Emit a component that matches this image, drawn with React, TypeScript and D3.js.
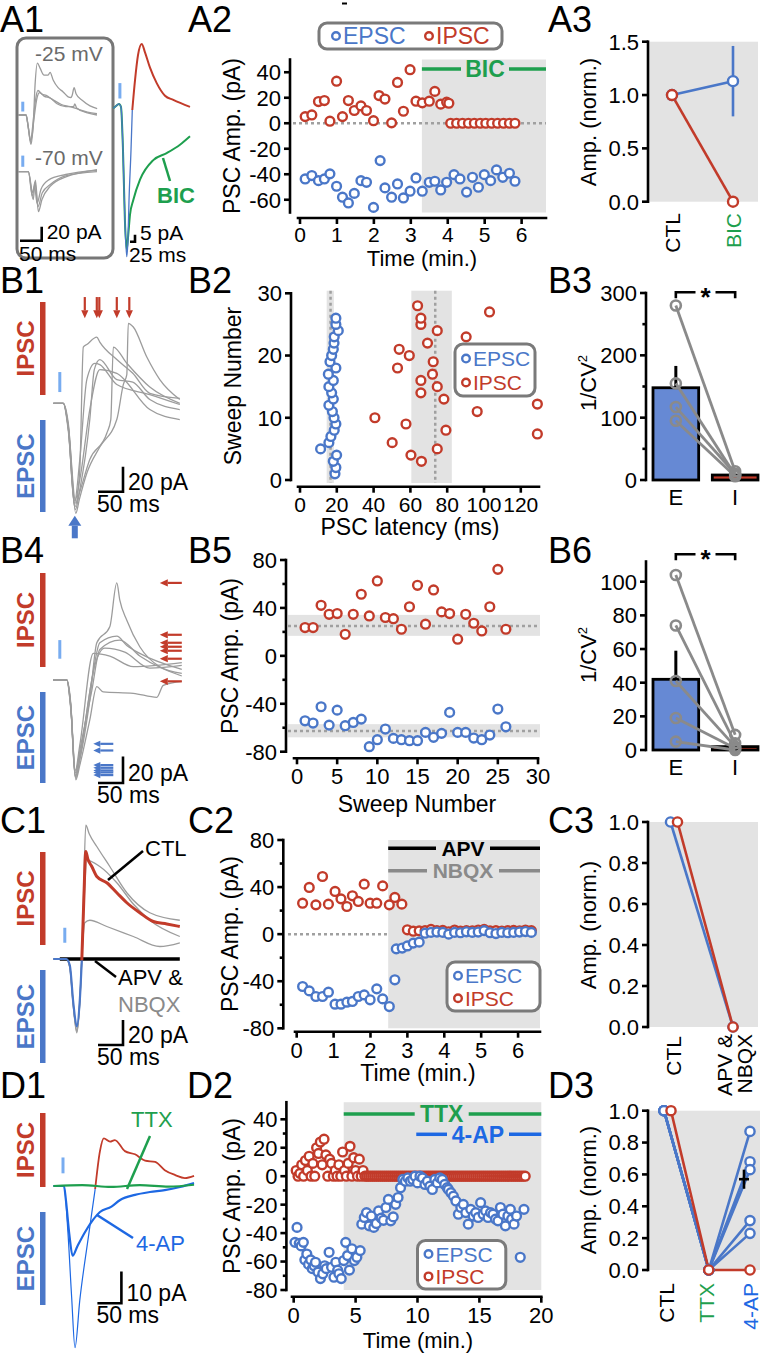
import React from 'react';
import * as d3 from 'd3';

type P = [number, number];

// ================= DATA =================
// A1 traces (time ms, current pA)
const A1_STIM_MS = 11;
const A1_NEG25_TRACES: P[][] = [
  [[0,0],[18.5,0],[23,-14],[29.3,-36],[34.6,-19],[39.3,43],[44.6,74],[50.8,67],[60,57],[69.3,57],[74,61],[81,50],[92.4,39],[104,33],[115.5,26],[122,25],[124.7,28],[129.3,39],[134,30],[147.8,21],[166,13],[182.4,9]],
  [[0,0],[18.5,0],[23,-14],[29,-38],[34,-15],[40,20],[46,35],[55,30],[65,28],[80,22],[100,15],[120,12],[140,8],[160,4],[182,2]],
  [[0,0],[18.5,0],[24,-20],[30,-42],[36,-10],[44,25],[50,32],[60,27],[75,24],[90,16],[110,12],[128,12],[131,16],[135,10],[160,3],[182,0]],
];
const A1_NEG70_TRACES: P[][] = [
  [[0,0],[23.8,0],[35,-40],[40,-12],[47,-57],[55,-40],[74,-21],[112,-7],[140,-2],[182,3]],
  [[0,0],[23.8,0],[34,-30],[39,-15],[46,-50],[56,-30],[75,-18],[110,-6],[182,0]],
  [[0,0],[24,0],[33,-35],[38,-20],[44,-45],[53,-25],[70,-12],[110,-4],[182,2]],
];
const A1R_STIM_MS = 33;
const A1R_EPSC: P[] = [[0,0],[13.5,1.6],[28.5,3.1],[38.5,0.9],[48.5,-30],[58,-80],[67,-106],[73,-95],[78.5,-66],[88.5,-30],[95,-1.2]];
const A1R_IPSC: P[] = [[95,-1.2],[108.5,20],[123.5,38],[142,46],[158.5,40],[183.5,29],[217,18],[258.5,9],[300,6],[383.5,1]];
const A1R_BIC: P[] = [[0,0],[13.5,1.6],[28.5,3.1],[38.5,0.9],[48.5,-30],[58,-80],[67,-101],[75,-90],[83.5,-76],[100,-65.5],[133.5,-51],[200,-37],[267,-32],[333.5,-26],[383.5,-20]];

// A2 (time min, amplitude pA)
const A2_TIME_TICKS = [0, 1, 2, 3, 4, 5, 6];
const A2_AMP_TICKS = [-60, -40, -20, 0, 20, 40];
const A2_BIC_START = 3.3;
const A2_IPSC: P[] = [
  [0.14,5.2],[0.32,6.5],[0.5,17],[0.66,17.8],[0.81,1.6],[0.99,33],[1.15,5.2],[1.31,17.8],[1.47,10],[1.65,13.6],[1.8,10],[1.99,2],
  [2.14,21.7],[2.3,19],[2.48,0.3],[2.64,32],[2.8,9.4],[2.98,42],[3.14,17.3],[3.31,16],[3.5,17.3],[3.65,25],[3.81,15],[3.97,16.5],[4.03,15.7],
  [4.08,0],[4.24,0],[4.4,0],[4.56,0],[4.72,0],[4.88,0],[5.03,0],[5.19,0],[5.35,0],[5.51,0],[5.67,0],[5.82,0],
];
const A2_EPSC: P[] = [
  [0.14,-43.7],[0.32,-41],[0.5,-45],[0.66,-43.7],[0.81,-39.7],[0.99,-49.4],[1.15,-58],[1.31,-62.5],[1.47,-55],[1.65,-45],[1.8,-46.3],
  [1.99,-66],[2.17,-29.3],[2.3,-50.7],[2.48,-58],[2.64,-47.6],[2.8,-58.6],[2.98,-53.3],[3.14,-42.9],[3.31,-53.3],[3.5,-46.3],[3.65,-45.5],
  [3.81,-52.3],[3.97,-46.3],[4.17,-40.3],[4.33,-43.7],[4.51,-54],[4.67,-42.4],[4.83,-50.2],[4.99,-40.3],[5.16,-45],[5.32,-36.6],
  [5.49,-42.4],[5.67,-39.2],[5.82,-45.5],
];

// A3 (normalized amplitude)
const A3_CONDITIONS = ['CTL', 'BIC'];
const A3_EPSC = [1.0, 1.13];
const A3_EPSC_SEM = [0, 0.33];
const A3_IPSC = [1.0, 0.0];
const A3_TICKS = [0, 0.5, 1.0, 1.5];

// B1 traces
const B1_STIM_MS = 13;
const B1_TRACES: P[][] = [
  [[0,0],[20,0],[30,-20],[43,-83],[53,-53],[60,45],[67,47],[87,53],[93,49],[127,35],[159,24],[193,8],[253,4]],
  [[0,0],[20,0],[30,-22],[44,-85],[53,-69],[73,-13],[82,27],[93,35],[127,19],[159,17],[193,3],[253,-5]],
  [[0,0],[20,0],[30,-18],[45,-80],[52,-72],[73,-45],[107,-24],[115,-13],[120,45],[147,32],[193,13],[253,0]],
  [[0,0],[20,0],[30,-20],[45,-88],[52,-77],[67,-56],[93,-35],[127,-13],[140,15],[147,23],[150,64],[160,61],[187,37],[213,19],[253,3]],
  [[0,0],[20,0],[30,-16],[43,-78],[53,-61],[73,-5],[93,27],[127,24],[193,-5],[253,-13]],
  [[0,0],[20,0],[30,-19],[42,-80],[53,-45],[67,19],[83,32],[93,31],[127,15],[193,7],[253,-1]],
];
const B1_IPSC_ARROW_MS = [63, 87, 92, 127, 152];
const B1_EPSC_ARROW_MS = 43;

// B2 (latency ms, sweep)
const B2_SWEEPS = [1,2,3,4,5,6,7,8,9,10,11,12,13,14,15,16,17,18,19,20,21,22,23,24,25,26];
const B2_EPSC_LAT = [19.0,19.5,18.1,19.9,11.2,15.7,16.8,18.6,19.5,18.5,17.6,15.7,18.1,17.2,15.7,18.1,15.4,19.5,16.3,17.2,18.1,18.5,18.6,20.8,19.5,19.5];
const B2_IPSC: P[] = [
  [66,3],[60.3,4],[74.6,5],[50.1,6],[129,7.4],[79.3,8],[57.6,9],[40.7,10],[96.3,11],[129,12.2],[78.2,13],[65.7,14],[74.6,15],
  [65.7,16],[72,17],[53,18],[72.4,19],[59.4,20],[53.9,21],[69.3,22],[90.3,23],[74.6,24],[65.7,25],[65.7,26],[103,27],[63.9,28],
];
const B2_EPSC_BAND = [14.5, 16.6, 18.4];
const B2_IPSC_BAND = [60.5, 73.5, 82.5];
const B2_LAT_TICKS = [0, 20, 40, 60, 80, 100, 120];
const B2_SWEEP_TICKS = [0, 10, 20, 30];

// B3 (1/CV^2)
const B3_GROUPS = ['E', 'I'];
const B3_MEANS = [148, 8];
const B3_E_SEM = 35;
const B3_E_CELLS = [280, 155, 117, 95];
const B3_I_CELLS = [14, 8, 10, 6];

// B4 traces
const B4_TRACES: P[][] = [
  [[0,0],[27,0],[35,-20],[44,-73],[53,-60],[73,-15],[87,28],[113,40],[127,73],[133,60],[147,45],[173,25],[213,10],[257,5]],
  [[0,0],[27,0],[35,-22],[45,-75],[53,-64],[73,-30],[87,-5],[100,-9],[160,-10],[207,-13],[220,-4],[257,-1]],
  [[0,0],[27,0],[35,-18],[43,-70],[53,-56],[77,0],[93,28],[127,33],[147,26],[173,20],[257,8]],
  [[0,0],[27,0],[35,-20],[44,-72],[53,-53],[77,-8],[93,23],[133,30],[173,18],[257,3]],
  [[0,0],[27,0],[35,-19],[44,-68],[53,-49],[80,20],[113,18],[160,10],[257,13]],
  [[0,0],[27,0],[35,-21],[45,-74],[53,-59],[83,11],[103,24],[143,21],[193,9],[257,11]],
];
const B4_IPSC_ARROW_PA = [73, 34, 28, 25, 22, 16, -1];
const B4_EPSC_ARROW_PA = [-48, -53, -64, -66, -68, -69.5, -71.5];

// B5 (sweep, amplitude)
const B5_SWEEPS = [1,2,3,4,5,6,7,8,9,10,11,12,13,14,15,16,17,18,19,20,21,22,23,24,25,26];
const B5_IPSC = [23.6,23.6,42.2,34.7,35.3,18,34.7,51.4,33.3,62.5,32,31,22.2,41,58.9,26.4,55,36.7,35.3,13.9,34.7,27.2,20.8,41,72.2,22.2];
const B5_EPSC = [-54.2,-56.1,-42.5,-57.8,-45.3,-58.3,-55.6,-52.8,-75.8,-70,-61.1,-68.9,-70,-70.8,-70.8,-63.9,-68,-64.7,-47.2,-63.9,-63.9,-68.6,-70,-66.1,-44.4,-59.2];
const B5_IPSC_BAND = [16.7, 25, 34.2];
const B5_EPSC_BAND = [-68, -62.8, -57];
const B5_SWEEP_TICKS = [0, 5, 10, 15, 20, 25, 30];
const B5_AMP_TICKS = [-80, -40, 0, 40, 80];
const B5_AMP_MINOR = [-60, -20, 20, 60];

// B6
const B6_MEANS = [42, 2];
const B6_E_SEM = 17;
const B6_E_CELLS = [104, 74, 41, 19, 5];
const B6_I_CELLS = [9, 4, 2, 1, 0];
const B6_TICKS = [0, 20, 40, 60, 80, 100];

// C1 traces
const C1_STIM_MS = 23;
const C1_EPSC: P[] = [[0,0],[26,0],[33,-5],[40,-35],[47,-54],[53,-33],[57,-1]];
const C1_CTL: P[] = [[57,-1],[61,47],[65,86],[69,80],[77,74],[87,66],[107,61],[127,53],[147,45],[173,37],[200,30],[227,28],[253,26]];
const C1_GRAY: P[][] = [
  [[0,0],[26,0],[33,-7],[40,-38],[47,-59],[53,-35],[57,0],[61,60],[65,107],[72,100],[87,90],[113,74],[147,53],[193,37],[253,31]],
  [[0,0],[26,0],[33,-6],[40,-36],[47,-57],[53,-33],[57,0],[62,50],[67,79],[93,74],[127,61],[160,44],[193,31],[253,18]],
  [[0,0],[26,0],[33,-6],[40,-37],[47,-58],[53,-34],[57,0],[63,29],[73,31],[107,26],[160,18],[213,10],[253,13]],
];
const C1_DRUG: P[] = [[13,0],[253,0]];

// C2 (time min, amplitude)
const C2_IPSC: P[] = [
  [0.16,26.3],[0.34,39.7],[0.52,24.9],[0.7,49],[0.86,25.5],[1.04,36.3],[1.2,30],[1.36,23.5],[1.51,32.6],[1.67,27.8],[1.83,42.5],
  [1.99,26.3],[2.17,26.3],[2.33,41],[2.51,24.9],[2.66,31.2],[2.85,25.5],
  [3.0,3.7],[3.16,2.5],[3.32,2.8],[3.48,3],[3.64,4],[3.8,3],[3.96,3.2],[4.12,2],[4.28,3.5],[4.44,2.5],[4.6,3],[4.76,2.8],
  [4.92,3.5],[5.08,4],[5.24,2.8],[5.4,3],[5.56,2.5],[5.72,3],[5.88,3.2],[6.04,2.8],[6.2,3.5],[6.36,3],
];
const C2_EPSC: P[] = [
  [0.16,-44.5],[0.34,-48.2],[0.52,-53],[0.7,-53],[0.86,-49.3],[1.04,-59.5],[1.2,-59.5],[1.36,-57.8],[1.51,-57.2],[1.67,-53],
  [1.83,-51.6],[1.99,-55.8],[2.17,-46.5],[2.33,-55],[2.51,-61.5],[2.66,-38.8],
  [2.7,-12.5],[2.86,-11.8],[3.0,-10],[3.16,-7.6],[3.32,-6.8],[3.48,0.8],[3.64,1.5],[3.8,1.8],[3.96,1.5],[4.12,0],[4.28,1.5],
  [4.44,1.2],[4.6,2],[4.76,1.5],[4.92,1.8],[5.08,3],[5.24,1.2],[5.4,0.5],[5.56,1.5],[5.72,1.2],[5.88,1.5],[6.04,1.8],[6.2,2.2],[6.36,1.5],
];
const C2_DRUG_START = 2.48;
const C2_TIME_TICKS = [0, 1, 2, 3, 4, 5, 6];
const C2_AMP_TICKS = [-80, -40, 0, 40, 80];
const C2_AMP_MINOR = [-60, -20, 20, 60];

// C3
const C3_CONDITIONS = ['CTL', 'APV'];
const C3_EPSC = [1.0, 0.0];
const C3_IPSC = [1.0, 0.0];
const NORM_TICKS = [0, 0.2, 0.4, 0.6, 0.8, 1.0];

// D1 traces
const D1_STIM_MS = 20;
const D1_EPSC: P[] = [[0,0],[22,0],[30,-14],[38,-35],[45,-51],[55,-36],[72,-17],[87,-1]];
const D1_IPSC: P[] = [[87,-1],[97,11],[105,15],[118,14],[128,14.5],[149,11],[170,10],[191,8],[212,7.6],[232,5],[253,3.5],[274,2.5],[293,3.2]];
const D1_4AP: P[] = [[0,0],[22,0],[26,-4.4],[33,-15],[40,-22],[50,-19],[66,-14.5],[97,-8.2],[121,-6.5],[139,-4.4],[170,-2.8],[201,-1.9],[232,-1.3],[264,-0.3],[293,0.9]];
const D1_TTX: P[] = [[0,0],[60,0.3],[120,-0.3],[180,0.3],[240,-0.2],[293,0.4]];

// D2 (time min, amplitude)
const D2_IPSC_EARLY: P[] = [
  [0.2,4],[0.35,0],[0.5,2],[0.65,8],[0.8,0],[0.95,11],[1.1,4],[1.25,14],[1.4,0],[1.55,9],[1.7,0],[1.85,20],[2.0,16],[2.15,24],
  [2.3,8],[2.45,26],[2.6,15],[2.75,0],[2.9,12],[3.05,9],[3.2,0],[3.35,4],[3.5,0],[3.65,8],[3.8,0],[3.95,17],[4.1,4],[4.25,0],
  [4.4,9],[4.55,21],[4.7,0],[4.85,13],[5.0,4],[5.15,0],[5.3,12],[5.45,0],[5.6,4],[5.75,0],
];
const D2_IPSC_BLOCKED_TIMES = [
  5.9,6.06,6.22,6.38,6.54,6.7,6.86,7.02,7.18,7.34,7.5,7.66,7.82,7.98,8.14,8.3,8.46,8.62,8.78,8.94,9.1,9.26,9.42,9.58,9.74,9.9,
  10.06,10.22,10.38,10.54,10.7,10.86,11.02,11.18,11.34,11.5,11.66,11.82,11.98,12.14,12.3,12.46,12.62,12.78,12.94,13.1,13.26,
  13.42,13.58,13.74,13.9,14.06,14.22,14.38,14.54,14.7,14.86,15.02,15.18,15.34,15.5,15.66,15.82,15.98,16.14,16.3,16.46,16.62,
  16.78,16.94,17.1,17.26,17.42,17.58,17.74,17.9,18.06,18.22,18.38,18.54,18.7,
];
const D2_EPSC: P[] = [
  [0.1,-46.5],[0.27,-36],[0.45,-47.2],[0.6,-49],[0.78,-46.5],[0.9,-58.8],[1.06,-54.7],[1.2,-62],[1.37,-58.8],[1.5,-65],[1.65,-63],
  [1.76,-60.5],[1.96,-67.4],[2.16,-72],[2.35,-68.6],[2.5,-63],[2.63,-65],[2.86,-53.5],[3.06,-64],[3.25,-71],[3.4,-60.5],[3.55,-66],
  [3.65,-68.6],[3.84,-72],[4.04,-59.3],[4.2,-46.5],[4.35,-55.8],[4.5,-66],[4.7,-51],[4.9,-59.3],[5.1,-57],[5.37,-52.3],
  [5.5,-33.7],[5.7,-29],[5.88,-25.6],[6.1,-34.9],[6.27,-28],[6.47,-36],[6.67,-33.3],[6.86,-24.4],[7.06,-29.5],[7.25,-31],[7.45,-22],
  [7.65,-16.3],[7.84,-31.4],[8.04,-28.6],[8.24,-19.8],[8.43,-15],[8.63,-8.1],[8.82,-2.3],[9.02,-3.5],[9.22,-1.2],[9.41,-3.5],
  [9.61,-2.3],[9.8,0],[10,-4.7],[10.2,0],[10.4,-1.2],[10.6,-5.8],[10.8,-3.5],[11,-7],[11.2,-9.3],[11.4,-2.3],[11.6,-4.7],[11.8,-1.2],
  [12,-2.3],[12.2,-5.8],[12.4,-8.1],[12.5,-9.3],[12.7,-11.6],[12.9,-14],[13.1,-17.4],[13.3,-26.7],[13.5,-22],[13.7,-19.8],[13.9,-25.6],
  [14.1,-33.7],[14.3,-23.3],[14.5,-28],[14.7,-25.6],[14.9,-29],[15.1,-18.6],[15.3,-26.7],[15.5,-24.4],[15.7,-29],[15.9,-25.6],
  [16.1,-26.7],[16.3,-30.2],[16.5,-31.4],[16.7,-22],[16.9,-26.7],[17.1,-34.9],[17.3,-28],[17.5,-23.3],[17.6,-30.2],[17.8,-33.7],
  [18,-28],[18.3,-57],[18.6,-23.3],
];
const D2_TTX_START = 4.04;
const D2_4AP_START = 9.9;
const D2_TIME_TICKS = [0, 5, 10, 15, 20];
const D2_AMP_TICKS = [-80, -60, -40, -20, 0, 20, 40];
const D2_AMP_MINOR = [-70, -50, -30, -10, 10, 30];

// D3
const D3_CONDITIONS = ['CTL', 'TTX', '4-AP'];
const D3_EPSC_CELLS = [[1, 0, 0.87], [1, 0, 0.68], [1, 0, 0.63], [1, 0, 0.31], [1, 0, 0.23]];
const D3_IPSC_CELLS = [[1, 0, 0]];
const D3_4AP_MEAN = 0.57;
const D3_4AP_SEM = 0.06;

// ================= STYLE =================
const FONT = '"Liberation Sans", Arial, Helvetica, sans-serif';
const C_BLUE = '#4a77c8';
const C_RED = '#c23b2a';
const C_GREEN = '#1e9f4e';
const C_BBLUE = '#1d68e3';
const C_BG = '#e3e3e3';
const C_TRACE = '#9c9c9c';
const C_STIM = '#78acf0';
const C_BAR_E = '#6689d4';
const C_CELL = '#8a8a8a';
const TICK_FS = 22;
const TITLE_FS = 23;

// ================= HELPERS =================
function frame(x0: number, kx: number, y0: number, ky: number) {
  return {
    x: d3.scaleLinear().domain([0, 1]).range([x0, x0 + kx]),
    y: d3.scaleLinear().domain([0, 1]).range([y0, y0 - ky]),
  };
}
function linePath(f: any, pts: P[]) {
  return d3.line<P>().x(d => f.x(d[0])).y(d => f.y(d[1])).curve(d3.curveMonotoneX)(pts) || '';
}
function Trace({ f, pts, color, w = 1.3 }: any) {
  return <path d={linePath(f, pts)} fill="none" stroke={color} strokeWidth={w} strokeLinejoin="round" />;
}
function PanelLabel({ x, y, t }: any) {
  return <text x={x} y={y} fontSize={36}>{t}</text>;
}
function Dot({ cx, cy, c, r = 4.4, sw = 2.4, fill = '#fff' }: any) {
  return <circle cx={cx} cy={cy} r={r} fill={fill} stroke={c} strokeWidth={sw} />;
}
function VText({ x, y, children, fs = TITLE_FS, anchor = 'middle', fill = '#000', weight = 'normal' }: any) {
  return (
    <text transform={`translate(${x},${y}) rotate(-90)`} textAnchor={anchor} fontSize={fs} fill={fill} fontWeight={weight}>
      {children}
    </text>
  );
}
function YAxis({ x, scale, ticks, minor = [], fmt = (d: number) => String(d), top, bottom, fs = TICK_FS, tl = 6, lw = 2.6 }: any) {
  return (
    <g>
      <line x1={x} x2={x} y1={top} y2={bottom} stroke="#000" strokeWidth={lw} strokeLinecap="square" />
      {ticks.map((t: number) => (
        <g key={'t' + t}>
          <line x1={x - tl} x2={x} y1={scale(t)} y2={scale(t)} stroke="#000" strokeWidth={lw} />
          <text x={x - tl - 3} y={scale(t)} dy="0.36em" textAnchor="end" fontSize={fs}>{fmt(t)}</text>
        </g>
      ))}
      {minor.map((t: number) => (
        <line key={'m' + t} x1={x - tl * 0.6} x2={x} y1={scale(t)} y2={scale(t)} stroke="#000" strokeWidth={lw} />
      ))}
    </g>
  );
}
function XAxis({ y, scale, ticks, x1, x2, fs = TICK_FS, tl = 6, lw = 2.6, dy = 27 }: any) {
  return (
    <g>
      <line x1={x1} x2={x2} y1={y} y2={y} stroke="#000" strokeWidth={lw} strokeLinecap="square" />
      {ticks.map((t: number) => (
        <g key={'t' + t}>
          <line x1={scale(t)} x2={scale(t)} y1={y} y2={y + tl} stroke="#000" strokeWidth={lw} />
          <text x={scale(t)} y={y + dy} textAnchor="middle" fontSize={fs}>{t}</text>
        </g>
      ))}
    </g>
  );
}
function ScaleBar({ x, y, w, h, lv, lh, fs = 23 }: any) {
  return (
    <g>
      <path d={`M${x},${y - h} L${x},${y} L${x - w},${y}`} fill="none" stroke="#000" strokeWidth={2.6} />
      <text x={x + 5} y={y - 2} fontSize={fs}>{lv}</text>
      <text x={x - w - 1} y={y + 20} fontSize={fs}>{lh}</text>
    </g>
  );
}
function Arrow({ x1, y1, x2, y2, color, w = 2, head = 7, hw = 0.5 }: any) {
  const ang = Math.atan2(y2 - y1, x2 - x1);
  const bx = x2 - head * Math.cos(ang);
  const by = y2 - head * Math.sin(ang);
  const px = -Math.sin(ang) * head * hw;
  const py = Math.cos(ang) * head * hw;
  return (
    <g>
      <line x1={x1} y1={y1} x2={bx} y2={by} stroke={color} strokeWidth={w} />
      <polygon points={`${x2},${y2} ${bx + px},${by + py} ${bx - px},${by - py}`} fill={color} />
    </g>
  );
}
function SideLabels({ ipsc, epsc }: any) {
  return (
    <g>
      <rect x={40} y={ipsc[0]} width={5.5} height={ipsc[1] - ipsc[0]} fill={C_RED} />
      <VText x={34} y={(ipsc[0] + ipsc[1]) / 2} fill={C_RED} weight="bold" fs={24}>IPSC</VText>
      <rect x={40} y={epsc[0]} width={5.5} height={epsc[1] - epsc[0]} fill={C_BLUE} />
      <VText x={34} y={(epsc[0] + epsc[1]) / 2} fill={C_BLUE} weight="bold" fs={24}>EPSC</VText>
    </g>
  );
}
function Stim({ x, y1, y2 }: any) {
  return <line x1={x} x2={x} y1={y1} y2={y2} stroke={C_STIM} strokeWidth={3} />;
}
function LegendCol({ x, y, w, h, r1, r2, fs = 21 }: any) {
  return (
    <g>
      <rect x={x} y={y} width={w} height={h} rx={8} fill="#fff" stroke="#7a7a7a" strokeWidth={3} />
      <Dot cx={x + 11} cy={y + h * 0.28} c={C_BLUE} r={3.8} />
      <text x={x + 18} y={y + h * 0.28} dy="0.36em" fontSize={fs} fill={C_BLUE}>{r1}</text>
      <Dot cx={x + 11} cy={y + h * 0.74} c={C_RED} r={3.8} />
      <text x={x + 18} y={y + h * 0.74} dy="0.36em" fontSize={fs} fill={C_RED}>{r2}</text>
    </g>
  );
}
function BarLabel({ y, x1, x2, cx, text, color, half, fs = 23 }: any) {
  return (
    <g>
      <line x1={x1} x2={cx - half} y1={y} y2={y} stroke={color} strokeWidth={3.5} />
      <line x1={cx + half} x2={x2} y1={y} y2={y} stroke={color} strokeWidth={3.5} />
      <text x={cx} y={y} dy="0.36em" textAnchor="middle" fontSize={fs} fontWeight="bold" fill={color}>{text}</text>
    </g>
  );
}
function Bracket({ x1, x2, y }: any) {
  const cx = (x1 + x2) / 2;
  return (
    <g>
      <path d={`M${x1},${y + 6} L${x1},${y} L${cx - 10},${y}`} fill="none" stroke="#000" strokeWidth={2.6} />
      <path d={`M${cx + 10},${y} L${x2},${y} L${x2},${y + 6}`} fill="none" stroke="#000" strokeWidth={2.6} />
      <text x={cx} y={y + 14} textAnchor="middle" fontSize={26} fontWeight="bold">*</text>
    </g>
  );
}

// ================= PANELS =================
function PanelA1() {
  const fT = frame(18, 0.434, 115, 0.7);
  const fB = frame(18, 0.434, 171.7, 0.7);
  const fR = frame(113.3, 0.2, 108.3, 1.4);
  return (
    <g>
      <PanelLabel x={0} y={32} t="A1" />
      <rect x={17} y={38} width={96} height={220} rx={9} fill="none" stroke="#777" strokeWidth={3} />
      <text x={35} y={61} fontSize={21} fill="#6a6a6a">-25 mV</text>
      <text x={35} y={165} fontSize={21} fill="#6a6a6a">-70 mV</text>
      {A1_NEG25_TRACES.map((t, i) => <Trace key={'a' + i} f={fT} pts={t} color={C_TRACE} />)}
      {A1_NEG70_TRACES.map((t, i) => <Trace key={'b' + i} f={fB} pts={t} color={C_TRACE} />)}
      <Stim x={fT.x(A1_STIM_MS)} y1={fT.y(5)} y2={fT.y(19)} />
      <Stim x={fB.x(A1_STIM_MS)} y1={fB.y(7)} y2={fB.y(23)} />
      <ScaleBar x={41.7} y={240.7} w={50 * 0.434} h={20 * 0.7} lv="20 pA" lh="50 ms" fs={21} />
      <Trace f={fR} pts={A1R_BIC} color={C_GREEN} w={2} />
      <Trace f={fR} pts={A1R_IPSC} color={C_RED} w={2} />
      <Trace f={fR} pts={A1R_EPSC} color={C_BLUE} w={1.3} />
      <Stim x={fR.x(A1R_STIM_MS)} y1={fR.y(7)} y2={fR.y(18)} />
      <line x1={170} y1={181} x2={163} y2={158} stroke={C_GREEN} strokeWidth={2.5} />
      <text x={157} y={203} fontSize={22} fontWeight="bold" fill={C_GREEN}>BIC</text>
      <ScaleBar x={135} y={241.7} w={25 * 0.2} h={5 * 1.4} lv="5 pA" lh="25 ms" fs={21} />
    </g>
  );
}

function PanelA2() {
  const x = d3.scaleLinear().domain([0, 6.66]).range([300, 546]);
  const y = d3.scaleLinear().domain([-70, 50]).range([212.5, 59.5]);
  return (
    <g>
      <PanelLabel x={188} y={32} t="A2" />
      <line x1={342} x2={347} y1={3.5} y2={3.5} stroke="#000" strokeWidth={2} />
      <rect x={x(A2_BIC_START)} y={y(50)} width={546 - x(A2_BIC_START)} height={y(-70) - y(50)} fill={C_BG} />
      <line x1={293} x2={546} y1={y(0)} y2={y(0)} stroke="#a0a0a0" strokeWidth={2.5} strokeDasharray="3,3" />
      <BarLabel y={69} x1={x(A2_BIC_START)} x2={546} cx={485} half={24} text="BIC" color={C_GREEN} />
      <YAxis x={290} scale={y} ticks={A2_AMP_TICKS} top={y(50)} bottom={y(-70)} />
      <XAxis y={218} scale={x} ticks={A2_TIME_TICKS} x1={298} x2={546} dy={24} fs={21} />
      {A2_IPSC.map((d, i) => <Dot key={'r' + i} cx={x(d[0])} cy={y(d[1])} c={C_RED} />)}
      {A2_EPSC.map((d, i) => <Dot key={'b' + i} cx={x(d[0])} cy={y(d[1])} c={C_BLUE} />)}
      <VText x={240} y={136}>PSC Amp. (pA)</VText>
      <text x={422} y={266} textAnchor="middle" fontSize={22}>Time (min.)</text>
      <rect x={319} y={23} width={183} height={26} rx={8} fill="#fff" stroke="#7a7a7a" strokeWidth={3} />
      <Dot cx={336} cy={36} c={C_BLUE} r={3.8} />
      <text x={343} y={36} dy="0.36em" fontSize={23} fill={C_BLUE}>EPSC</text>
      <Dot cx={429} cy={36} c={C_RED} r={3.8} />
      <text x={436} y={36} dy="0.36em" fontSize={23} fill={C_RED}>IPSC</text>
    </g>
  );
}

function PanelA3() {
  const y = d3.scaleLinear().domain([0, 1.5]).range([201.7, 41.7]);
  const x = d3.scalePoint<string>().domain(A3_CONDITIONS).range([672, 733]);
  const line = d3.line<number>().x((_, i) => x(A3_CONDITIONS[i]) as number).y(d => y(d));
  return (
    <g>
      <PanelLabel x={548} y={32} t="A3" />
      <rect x={648} y={y(1.5)} width={110} height={y(0) - y(1.5)} fill={C_BG} />
      <YAxis x={648} scale={y} ticks={A3_TICKS} fmt={(d: number) => d.toFixed(1)} top={y(1.5)} bottom={y(0)} />
      <path d={line(A3_EPSC) || ''} fill="none" stroke={C_BLUE} strokeWidth={2.6} />
      <line x1={x('BIC')} x2={x('BIC')} y1={y(A3_EPSC[1] - A3_EPSC_SEM[1])} y2={y(A3_EPSC[1] + A3_EPSC_SEM[1])} stroke={C_BLUE} strokeWidth={2.6} />
      <path d={line(A3_IPSC) || ''} fill="none" stroke={C_RED} strokeWidth={2.6} />
      {A3_EPSC.map((v, i) => <Dot key={'b' + i} cx={x(A3_CONDITIONS[i])} cy={y(v)} c={C_BLUE} r={5} />)}
      {A3_IPSC.map((v, i) => <Dot key={'r' + i} cx={x(A3_CONDITIONS[i])} cy={y(v)} c={C_RED} r={5} />)}
      <VText x={680} y={213} anchor="end" fs={21}>CTL</VText>
      <VText x={741} y={213} anchor="end" fs={21} fill={C_GREEN}>BIC</VText>
      <VText x={596} y={122} fs={22}>Amp. (norm.)</VText>
    </g>
  );
}

function PanelB1() {
  const f = frame(53.3, 0.5, 403.3, 1.25);
  return (
    <g>
      <PanelLabel x={0} y={293} t="B1" />
      <SideLabels ipsc={[302, 395]} epsc={[420, 512]} />
      {B1_TRACES.map((t, i) => <Trace key={i} f={f} pts={t} color={C_TRACE} />)}
      <Stim x={f.x(B1_STIM_MS)} y1={f.y(25)} y2={f.y(9)} />
      {B1_IPSC_ARROW_MS.map((t, i) => <Arrow key={i} x1={f.x(t)} x2={f.x(t)} y1={f.y(85)} y2={f.y(68)} color={C_RED} w={2.2} head={8} hw={0.45} />)}
      <Arrow x1={f.x(B1_EPSC_ARROW_MS)} x2={f.x(B1_EPSC_ARROW_MS)} y1={f.y(-108)} y2={f.y(-90)} color={C_BLUE} w={6} head={10} hw={0.65} />
      <ScaleBar x={123} y={491.7} w={50 * 0.5} h={20 * 1.25} lv="20 pA" lh="50 ms" />
    </g>
  );
}

function PanelB2() {
  const x = d3.scaleLinear().domain([0, 130]).range([300, 539.2]);
  const y = d3.scaleLinear().domain([0, 30]).range([480, 293.3]);
  const band = (b: number[], k: string) => (
    <g key={k}>
      <rect x={x(b[0])} y={290.7} width={x(b[2]) - x(b[0])} height={483 - 290.7} fill={C_BG} />
      <line x1={x(b[1])} x2={x(b[1])} y1={290.7} y2={483} stroke="#a0a0a0" strokeWidth={2.5} strokeDasharray="3,3" />
    </g>
  );
  return (
    <g>
      <PanelLabel x={188} y={293} t="B2" />
      {band(B2_EPSC_BAND, 'e')}
      {band(B2_IPSC_BAND, 'i')}
      <YAxis x={291} scale={y} ticks={B2_SWEEP_TICKS} top={y(30)} bottom={y(0)} />
      <XAxis y={486.7} scale={x} ticks={B2_LAT_TICKS} x1={298} x2={539} dy={25} fs={21} />
      {B2_IPSC.map((d, i) => <Dot key={'r' + i} cx={x(d[0])} cy={y(d[1])} c={C_RED} />)}
      {B2_EPSC_LAT.map((v, i) => <Dot key={'b' + i} cx={x(v)} cy={y(B2_SWEEPS[i])} c={C_BLUE} />)}
      <LegendCol x={455} y={344} w={80} h={52} r1="EPSC" r2="IPSC" fs={21} />
      <VText x={241} y={386}>Sweep Number</VText>
      <text x={410} y={535} textAnchor="middle" fontSize={TITLE_FS}>PSC latency (ms)</text>
    </g>
  );
}

function CvPanel({ lab, labY, y, ticks, minor, means, sem, eCells, iCells, top, bottom, bracketY, titleY }: any) {
  const x = d3.scaleBand<string>().domain(B3_GROUPS).range([653, 758]).paddingInner(0.23);
  const ex = (x('E') as number) + x.bandwidth() / 2;
  const ix = (x('I') as number) + x.bandwidth() / 2;
  return (
    <g>
      <PanelLabel x={548} y={labY} t={lab} />
      <YAxis x={646} scale={y} ticks={ticks} minor={minor} top={top} bottom={bottom} />
      <line x1={ex} x2={ex} y1={y(means[0])} y2={y(means[0] + sem)} stroke="#000" strokeWidth={3} />
      <rect x={x('E')} y={y(means[0])} width={x.bandwidth()} height={y(0) - y(means[0])} fill={C_BAR_E} stroke="#000" strokeWidth={2.8} />
      <rect x={x('I')} y={y(means[1])} width={x.bandwidth()} height={y(0) - y(means[1])} fill={C_RED} stroke="#000" strokeWidth={2.8} />
      {eCells.map((v: number, i: number) => (
        <line key={'l' + i} x1={ex} x2={ix} y1={y(v)} y2={y(iCells[i])} stroke={C_CELL} strokeWidth={2.8} />
      ))}
      {eCells.map((v: number, i: number) => <Dot key={'e' + i} cx={ex} cy={y(v)} c={C_CELL} r={5} fill="none" sw={2.6} />)}
      {iCells.map((v: number, i: number) => <Dot key={'i' + i} cx={ix} cy={y(v)} c={C_CELL} r={5} fill="none" sw={2.6} />)}
      <Bracket x1={ex} x2={ix} y={bracketY} />
      <text x={ex} y={bottom + 25} textAnchor="middle" fontSize={22}>E</text>
      <text x={ix} y={bottom + 25} textAnchor="middle" fontSize={22}>I</text>
      <text transform={`translate(596,${titleY}) rotate(-90)`} textAnchor="middle" fontSize={22}>
        1/CV<tspan fontSize={13} dy={-9}>2</tspan>
      </text>
    </g>
  );
}

function PanelB4() {
  const f = frame(53.3, 0.5, 680, 1.33);
  return (
    <g>
      <PanelLabel x={0} y={563} t="B4" />
      <SideLabels ipsc={[573, 667]} epsc={[692, 783]} />
      {B4_TRACES.map((t, i) => <Trace key={i} f={f} pts={t} color={C_TRACE} />)}
      <Stim x={f.x(13)} y1={f.y(30)} y2={f.y(16)} />
      {B4_IPSC_ARROW_PA.map((v, i) => <Arrow key={'r' + i} x1={f.x(257)} x2={f.x(213)} y1={f.y(v)} y2={f.y(v)} color={C_RED} w={2.2} head={8} hw={0.45} />)}
      {B4_EPSC_ARROW_PA.map((v, i) => <Arrow key={'b' + i} x1={f.x(120)} x2={f.x(80)} y1={f.y(v)} y2={f.y(v)} color={C_BLUE} w={2.2} head={7} hw={0.45} />)}
      <ScaleBar x={123} y={783} w={50 * 0.5} h={20 * 1.33} lv="20 pA" lh="50 ms" />
    </g>
  );
}

function PanelB5() {
  const x = d3.scaleLinear().domain([0, 30]).range([297, 538]);
  const y = d3.scaleLinear().domain([-80, 80]).range([751.7, 560]);
  const band = (b: number[], k: string) => (
    <g key={k}>
      <rect x={288} y={y(b[2])} width={252} height={y(b[0]) - y(b[2])} fill={C_BG} />
      <line x1={288} x2={540} y1={y(b[1])} y2={y(b[1])} stroke="#a0a0a0" strokeWidth={2.5} strokeDasharray="3,3" />
    </g>
  );
  return (
    <g>
      <PanelLabel x={188} y={563} t="B5" />
      {band(B5_IPSC_BAND, 'i')}
      {band(B5_EPSC_BAND, 'e')}
      <YAxis x={286} scale={y} ticks={B5_AMP_TICKS} minor={B5_AMP_MINOR} top={y(80)} bottom={y(-80)} />
      <XAxis y={758.3} scale={x} ticks={B5_SWEEP_TICKS} x1={294} x2={538} dy={26} />
      {B5_IPSC.map((v, i) => <Dot key={'r' + i} cx={x(B5_SWEEPS[i])} cy={y(v)} c={C_RED} />)}
      {B5_EPSC.map((v, i) => <Dot key={'b' + i} cx={x(B5_SWEEPS[i])} cy={y(v)} c={C_BLUE} />)}
      <VText x={238} y={656}>PSC Amp. (pA)</VText>
      <text x={417} y={812} textAnchor="middle" fontSize={TITLE_FS}>Sweep Number</text>
    </g>
  );
}

function PanelC1() {
  const f = frame(53.3, 0.5, 959, 1.25);
  return (
    <g>
      <PanelLabel x={0} y={833} t="C1" />
      <SideLabels ipsc={[852, 945]} epsc={[970, 1063]} />
      {C1_GRAY.map((t, i) => <Trace key={i} f={f} pts={t} color={C_TRACE} />)}
      <Trace f={f} pts={C1_DRUG} color="#000" w={3.5} />
      <Trace f={f} pts={C1_EPSC} color={C_BLUE} w={2.2} />
      <Trace f={f} pts={C1_CTL} color={C_RED} w={3} />
      <Stim x={f.x(C1_STIM_MS)} y1={f.y(25)} y2={f.y(13)} />
      <line x1={108} y1={880} x2={143} y2={851} stroke="#000" strokeWidth={2.5} />
      <text x={145} y={856} fontSize={22}>CTL</text>
      <line x1={95} y1={961} x2={116} y2={977} stroke="#000" strokeWidth={2.5} />
      <text x={118} y={985} fontSize={22}>APV &amp;</text>
      <text x={118} y={1012} fontSize={22} fill="#8a8a8a">NBQX</text>
      <ScaleBar x={123} y={1045} w={50 * 0.5} h={20 * 1.25} lv="20 pA" lh="50 ms" />
    </g>
  );
}

function PanelC2() {
  const x = d3.scaleLinear().domain([0, 6.6]).range([296.7, 540.2]);
  const y = d3.scaleLinear().domain([-80, 80]).range([1028.3, 840]);
  return (
    <g>
      <PanelLabel x={188} y={833} t="C2" />
      <rect x={x(C2_DRUG_START)} y={y(80)} width={540 - x(C2_DRUG_START)} height={y(-80) - y(80)} fill={C_BG} />
      <line x1={288} x2={x(C2_DRUG_START)} y1={y(0)} y2={y(0)} stroke="#a0a0a0" strokeWidth={2.5} strokeDasharray="3,3" />
      <BarLabel y={848.3} x1={x(C2_DRUG_START)} x2={540} cx={463} half={27} text="APV" color="#000" fs={21} />
      <BarLabel y={870.7} x1={x(C2_DRUG_START)} x2={540} cx={463} half={36} text="NBQX" color="#8a8a8a" fs={21} />
      <YAxis x={283.3} scale={y} ticks={C2_AMP_TICKS} minor={C2_AMP_MINOR} top={y(80)} bottom={y(-80)} />
      <XAxis y={1031.7} scale={x} ticks={C2_TIME_TICKS} x1={295} x2={540} dy={26} />
      {C2_IPSC.map((d, i) => <Dot key={'r' + i} cx={x(d[0])} cy={y(d[1])} c={C_RED} />)}
      {C2_EPSC.map((d, i) => <Dot key={'b' + i} cx={x(d[0])} cy={y(d[1])} c={C_BLUE} />)}
      <LegendCol x={447} y={962} w={93} h={49} r1="EPSC" r2="IPSC" fs={21} />
      <VText x={238} y={934}>PSC Amp. (pA)</VText>
      <text x={418} y={1081} textAnchor="middle" fontSize={TITLE_FS}>Time (min.)</text>
    </g>
  );
}

function PanelC3() {
  const y = d3.scaleLinear().domain([0, 1]).range([1027, 822]);
  const x = d3.scalePoint<string>().domain(C3_CONDITIONS).range([674, 733]);
  const xb = (c: string, i: number) => (x(c) as number) + (i === 0 ? -3.5 : 0);
  const xr = (c: string, i: number) => (x(c) as number) + (i === 0 ? 3.5 : 0);
  const lb = d3.line<number>().x((_, i) => xb(C3_CONDITIONS[i], i)).y(d => y(d));
  const lr = d3.line<number>().x((_, i) => xr(C3_CONDITIONS[i], i)).y(d => y(d));
  return (
    <g>
      <PanelLabel x={548} y={833} t="C3" />
      <rect x={648} y={y(1)} width={110} height={y(0) - y(1)} fill={C_BG} />
      <YAxis x={648} scale={y} ticks={NORM_TICKS} fmt={(d: number) => d.toFixed(1)} top={y(1)} bottom={y(0)} />
      <path d={lb(C3_EPSC) || ''} fill="none" stroke={C_BLUE} strokeWidth={2.6} />
      <path d={lr(C3_IPSC) || ''} fill="none" stroke={C_RED} strokeWidth={2.6} />
      {C3_EPSC.map((v, i) => <Dot key={'b' + i} cx={xb(C3_CONDITIONS[i], i)} cy={y(v)} c={C_BLUE} r={4.6} />)}
      {C3_IPSC.map((v, i) => <Dot key={'r' + i} cx={xr(C3_CONDITIONS[i], i)} cy={y(v)} c={C_RED} r={4.6} />)}
      <VText x={681} y={1036} anchor="end" fs={21}>CTL</VText>
      <VText x={732} y={1034} anchor="end" fs={21}>APV &amp;</VText>
      <VText x={752} y={1034} anchor="end" fs={21}>NBQX</VText>
      <VText x={596} y={925} fs={22}>Amp. (norm.)</VText>
    </g>
  );
}

function PanelD1() {
  const f = frame(53.4, 0.48, 1186, 3.17);
  return (
    <g>
      <PanelLabel x={0} y={1098} t="D1" />
      <SideLabels ipsc={[1113, 1187]} epsc={[1212, 1305]} />
      <Trace f={f} pts={D1_IPSC} color={C_RED} w={1.8} />
      <Trace f={f} pts={D1_EPSC} color={C_BBLUE} w={1.2} />
      <Trace f={f} pts={D1_4AP} color={C_BBLUE} w={2.2} />
      <Trace f={f} pts={D1_TTX} color={C_GREEN} w={2.2} />
      <Stim x={f.x(D1_STIM_MS)} y1={f.y(9)} y2={f.y(4)} />
      <line x1={150} y1={1136} x2={127} y2={1189} stroke={C_GREEN} strokeWidth={2.5} />
      <text x={131} y={1127} fontSize={22} fill={C_GREEN}>TTX</text>
      <line x1={97} y1={1215} x2={133} y2={1238} stroke={C_BBLUE} strokeWidth={2.5} />
      <text x={136} y={1251} fontSize={22} fill={C_BBLUE}>4-AP</text>
      <ScaleBar x={121.4} y={1303.3} w={50 * 0.48} h={10 * 3.17} lv="10 pA" lh="50 ms" />
    </g>
  );
}

function PanelD2() {
  const x = d3.scaleLinear().domain([0, 20]).range([293.7, 541.3]);
  const y = d3.scaleLinear().domain([-80, 40]).range([1290, 1119.3]);
  return (
    <g>
      <PanelLabel x={187} y={1098} t="D2" />
      <rect x={x(D2_TTX_START)} y={y(52)} width={541.3 - x(D2_TTX_START)} height={y(-80) - y(52)} fill={C_BG} />
      <BarLabel y={1114} x1={x(D2_TTX_START)} x2={541.3} cx={441.7} half={27} text="TTX" color={C_GREEN} />
      <BarLabel y={1134.3} x1={x(D2_4AP_START)} x2={541.3} cx={478} half={31} text="4-AP" color={C_BBLUE} />
      <YAxis x={286.4} scale={y} ticks={D2_AMP_TICKS} minor={D2_AMP_MINOR} top={y(52)} bottom={y(-80)} />
      <XAxis y={1296.7} scale={x} ticks={D2_TIME_TICKS} x1={292} x2={541.3} dy={26} />
      {D2_IPSC_EARLY.map((d, i) => <Dot key={'r' + i} cx={x(d[0])} cy={y(d[1])} c={C_RED} />)}
      {D2_IPSC_BLOCKED_TIMES.map((t, i) => <Dot key={'z' + i} cx={x(t)} cy={y(0)} c={C_RED} />)}
      {D2_EPSC.map((d, i) => <Dot key={'b' + i} cx={x(d[0])} cy={y(d[1])} c={C_BLUE} />)}
      <LegendCol x={417.5} y={1240.5} w={88.3} h={48.5} r1="EPSC" r2="IPSC" fs={21} />
      <VText x={240} y={1196}>PSC Amp. (pA)</VText>
      <text x={418} y={1348} textAnchor="middle" fontSize={22}>Time (min.)</text>
    </g>
  );
}

function PanelD3() {
  const y = d3.scaleLinear().domain([0, 1]).range([1270, 1110.7]);
  const x = d3.scalePoint<string>().domain(D3_CONDITIONS).range([667.5, 750]);
  const xb = (i: number) => (x(D3_CONDITIONS[i]) as number) + (i === 0 ? -3.5 : 0);
  const xr = (i: number) => (x(D3_CONDITIONS[i]) as number) + (i === 0 ? 3.5 : 0);
  const lb = d3.line<number>().x((_, i) => xb(i)).y(d => y(d));
  const lr = d3.line<number>().x((_, i) => xr(i)).y(d => y(d));
  const x4 = x('4-AP') as number;
  return (
    <g>
      <PanelLabel x={548} y={1098} t="D3" />
      <rect x={648} y={y(1)} width={112} height={y(0) - y(1)} fill={C_BG} />
      <YAxis x={648} scale={y} ticks={NORM_TICKS} fmt={(d: number) => d.toFixed(1)} top={y(1)} bottom={y(0)} />
      {D3_EPSC_CELLS.map((c, k) => <path key={'bl' + k} d={lb(c) || ''} fill="none" stroke={C_BLUE} strokeWidth={2.6} />)}
      {D3_IPSC_CELLS.map((c, k) => <path key={'rl' + k} d={lr(c) || ''} fill="none" stroke={C_RED} strokeWidth={2.6} />)}
      {D3_EPSC_CELLS.map((c, k) => c.map((v, i) => <Dot key={'b' + k + '-' + i} cx={xb(i)} cy={y(v)} c={C_BLUE} r={4.6} />))}
      {D3_IPSC_CELLS.map((c, k) => c.map((v, i) => <Dot key={'r' + k + '-' + i} cx={xr(i)} cy={y(v)} c={C_RED} r={4.6} />))}
      <line x1={x4 - 6} x2={x4 - 6} y1={y(D3_4AP_MEAN - D3_4AP_SEM)} y2={y(D3_4AP_MEAN + D3_4AP_SEM)} stroke="#000" strokeWidth={2.6} />
      <line x1={x4 - 11} x2={x4 - 1} y1={y(D3_4AP_MEAN)} y2={y(D3_4AP_MEAN)} stroke="#000" strokeWidth={2.6} />
      <VText x={674} y={1283} anchor="end" fs={21}>CTL</VText>
      <VText x={714} y={1283} anchor="end" fs={21} fill={C_GREEN}>TTX</VText>
      <VText x={758} y={1283} anchor="end" fs={21} fill={C_BBLUE}>4-AP</VText>
      <VText x={596} y={1190} fs={22}>Amp. (norm.)</VText>
    </g>
  );
}

export default function App() {
  const yB3 = d3.scaleLinear().domain([0, 300]).range([480, 293]);
  const yB6 = d3.scaleLinear().domain([0, 100]).range([750, 581.7]);
  return (
    <svg width={761} height={1354} viewBox="0 0 761 1354" fontFamily={FONT}
      style={{ position: 'absolute', left: 0, top: 0, display: 'block', background: '#fff' }}>
      <rect width={761} height={1354} fill="#fff" />
      <PanelA1 />
      <PanelA2 />
      <PanelA3 />
      <PanelB1 />
      <PanelB2 />
      <CvPanel lab="B3" labY={293} y={yB3} ticks={[0, 100, 200, 300]} minor={[50, 150, 250]} means={B3_MEANS} sem={B3_E_SEM}
        eCells={B3_E_CELLS} iCells={B3_I_CELLS} top={yB3(300)} bottom={yB3(0)} bracketY={292.3} titleY={383} />
      <PanelB4 />
      <PanelB5 />
      <CvPanel lab="B6" labY={563} y={yB6} ticks={B6_TICKS} minor={[]} means={B6_MEANS} sem={B6_E_SEM}
        eCells={B6_E_CELLS} iCells={B6_I_CELLS} top={yB6(112)} bottom={yB6(0)} bracketY={554.3} titleY={655} />
      <PanelC1 />
      <PanelC2 />
      <PanelC3 />
      <PanelD1 />
      <PanelD2 />
      <PanelD3 />
    </svg>
  );
}
